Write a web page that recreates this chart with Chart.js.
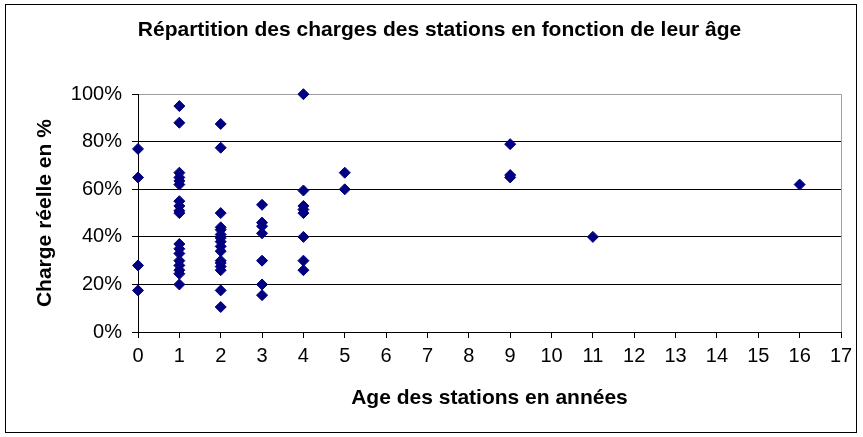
<!DOCTYPE html>
<html>
<head>
<meta charset="utf-8">
<script src="https://cdn.jsdelivr.net/npm/chart.js"></script>
<style>
    body { margin: 0; background: #fff; }
</style>
</head>
<body>
<canvas id="chart" width="863" height="437"></canvas>
<script>
// Station ages (years) and measured load (%) at each age
const ages = [0, 1, 2, 3, 4, 5, 9, 11, 16];
const charges = [
    [77, 65, 28, 17.5],
    [95, 88, 67, 65, 63.5, 62, 55, 53, 51, 50, 37, 35, 33, 30, 28, 26, 24.5, 20],
    [87.5, 77.5, 50, 44, 43, 41, 39.5, 38, 36, 34, 30, 29, 27.5, 26, 17.5, 10.5],
    [53.5, 46, 44.5, 41.5, 30, 20, 15.5],
    [100, 59.5, 53, 51.5, 50, 40, 30, 26],
    [67, 60],
    [79, 66, 65],
    [40],
    [62]
];
const xTicks = [0, 1, 2, 3, 4, 5, 6, 7, 8, 9, 10, 11, 12, 13, 14, 15, 16, 17];
const yTicks = [0, 20, 40, 60, 80, 100];

const FONT = "'Liberation Sans', Arial, sans-serif";

document.addEventListener('DOMContentLoaded', function() {
    const points = [];
    ages.forEach((age, i) => {
        charges[i].forEach(c => points.push({ x: age, y: c }));
    });

    // outer frame round the whole chart
    const framePlugin = {
        id: 'frame',
        afterDraw(chart) {
            const ctx = chart.ctx;
            ctx.save();
            ctx.strokeStyle = '#000';
            ctx.lineWidth = 1;
            ctx.strokeRect(5.5, 4.5, 851, 428);
            ctx.restore();
        }
    };

    Chart.defaults.font.family = FONT;
    Chart.defaults.color = '#000';

    new Chart(document.getElementById('chart').getContext('2d'), {
        type: 'scatter',
        data: {
            datasets: [{
                data: points,
                clip: false,
                pointStyle: 'rectRot',
                pointRadius: 5.5,
                pointHoverRadius: 5.5,
                backgroundColor: '#000080',
                borderColor: '#000080',
                borderWidth: 1
            }]
        },
        options: {
            responsive: false,
            animation: false,
            devicePixelRatio: 1,
            layout: { padding: { left: 38, right: 22, top: 0, bottom: 0 } },
            plugins: {
                legend: { display: false },
                tooltip: { enabled: false },
                title: {
                    display: true,
                    text: 'Répartition des charges des stations en fonction de leur âge',
                    font: { size: 21, weight: 'bold' },
                    color: '#000',
                    padding: { top: 18, bottom: 51 }
                }
            },
            scales: {
                x: {
                    type: 'linear',
                    min: 0,
                    max: 17,
                    afterBuildTicks: s => { s.ticks = xTicks.map(v => ({ value: v })); },
                    afterFit: s => { s.height = 105; },
                    ticks: { font: { size: 20 }, padding: 6, maxRotation: 0, autoSkip: false },
                    grid: {
                        color: c => (c.tick && c.tick.value === 17) ? '#a0a0a0' : 'rgba(0,0,0,0)',
                        tickColor: '#000',
                        tickLength: 6
                    },
                    border: { color: '#000', width: 1 },
                    title: {
                        display: true,
                        text: 'Age des stations en années',
                        font: { size: 21, weight: 'bold' },
                        color: '#000',
                        padding: { top: 0, bottom: 26 }
                    }
                },
                y: {
                    min: 0,
                    max: 100,
                    afterBuildTicks: s => { s.ticks = yTicks.map(v => ({ value: v })); },
                    afterFit: s => { s.width = 100; },
                    ticks: {
                        font: { size: 20 },
                        padding: 10,
                        callback: v => v + '%'
                    },
                    grid: {
                        color: c => (c.tick && c.tick.value === 100) ? '#a0a0a0' : '#000',
                        tickColor: '#000',
                        tickLength: 6
                    },
                    border: { color: '#000', width: 1 },
                    title: {
                        display: true,
                        text: 'Charge réelle en %',
                        font: { size: 21, weight: 'bold' },
                        color: '#000',
                        padding: { top: -5, bottom: 0 }
                    }
                }
            }
        },
        plugins: [framePlugin]
    });
});
</script>
</body>
</html>
